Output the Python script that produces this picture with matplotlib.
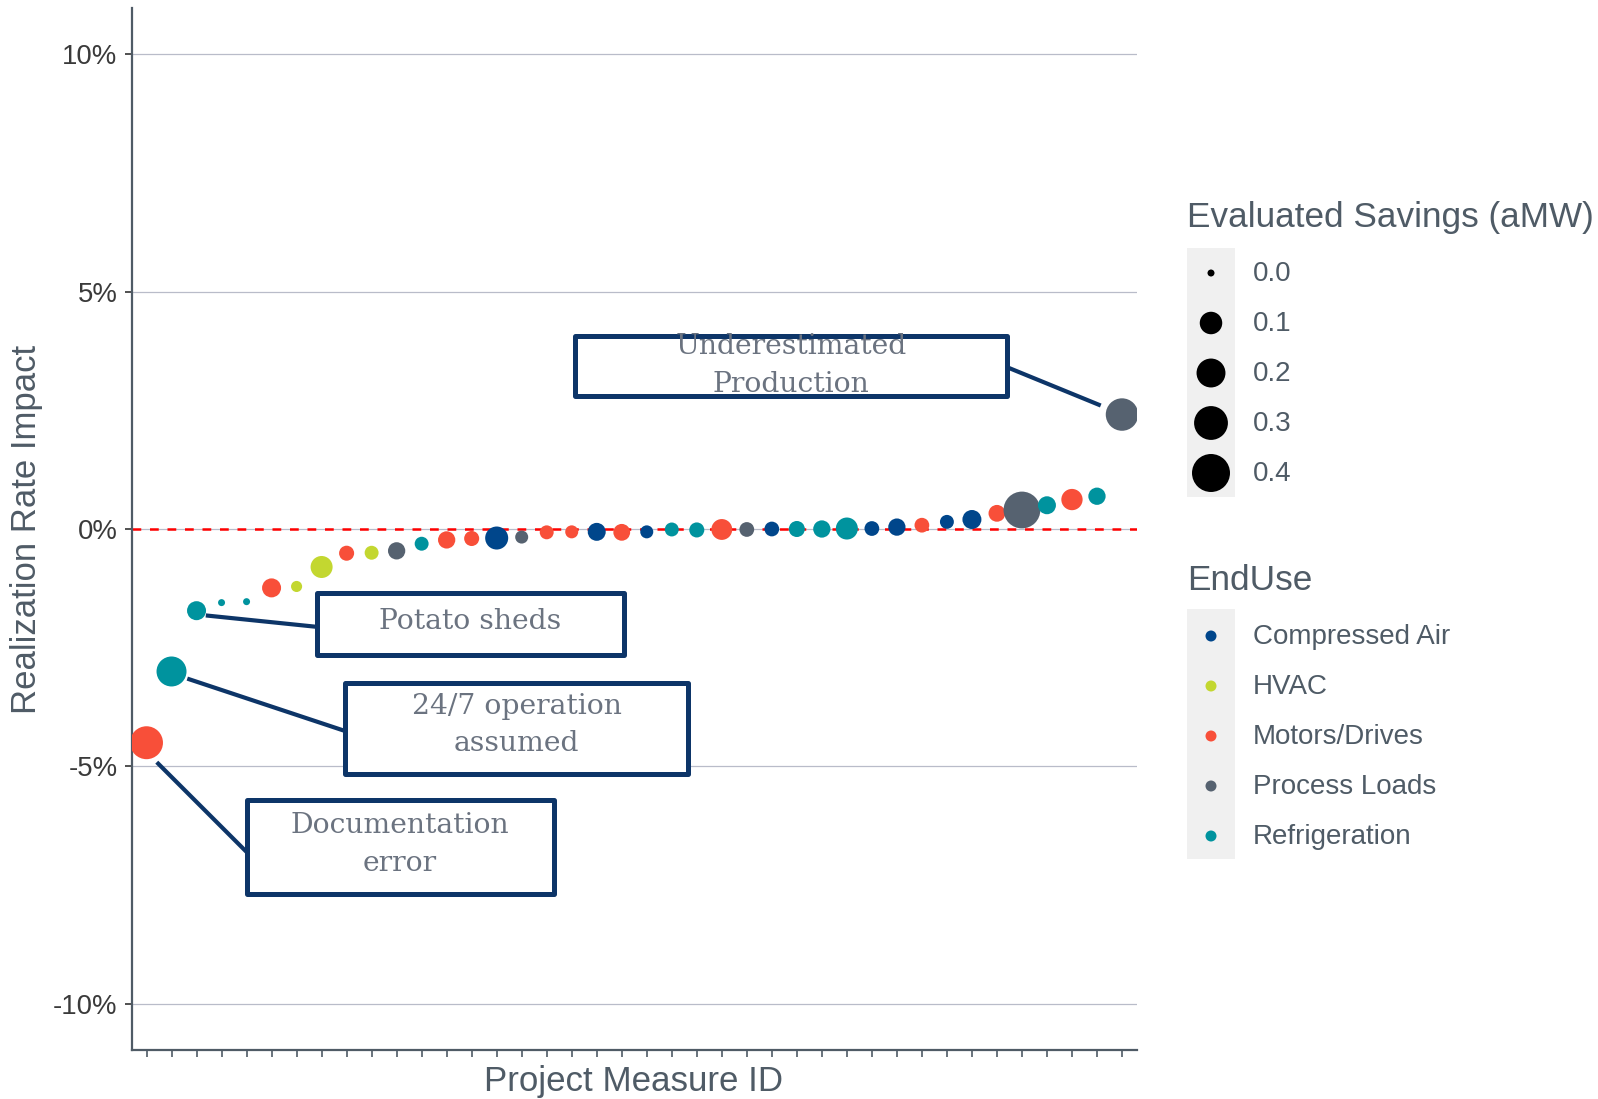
import matplotlib
matplotlib.use("Agg")
import matplotlib.pyplot as plt
from matplotlib.patches import Rectangle
import numpy as np

# ---------------- data ----------------
measure_ids = list(range(1, 41))
rr_impact = [-4.50, -3.00, -1.72, -1.55, -1.53, -1.24, -1.21, -0.80, -0.51, -0.50,
             -0.46, -0.31, -0.23, -0.20, -0.19, -0.17, -0.07, -0.06, -0.06, -0.07,
             -0.06, -0.01, -0.02, -0.01, -0.01, 0.00, 0.00, 0.00, 0.01, 0.01,
             0.04, 0.08, 0.15, 0.20, 0.33, 0.40, 0.50, 0.62, 0.69, 2.41]
savings = [0.28, 0.22, 0.06, 0.0, 0.0, 0.06, 0.007, 0.094, 0.027, 0.02,
           0.044, 0.02, 0.044, 0.027, 0.107, 0.015, 0.02, 0.015, 0.05, 0.04,
           0.015, 0.02, 0.027, 0.08, 0.025, 0.025, 0.034, 0.044, 0.094, 0.025,
           0.044, 0.025, 0.02, 0.06, 0.04, 0.37, 0.05, 0.085, 0.044, 0.27]
end_use = ["Motors/Drives", "Refrigeration", "Refrigeration", "Refrigeration", "Refrigeration",
           "Motors/Drives", "HVAC", "HVAC", "Motors/Drives", "HVAC",
           "Process Loads", "Refrigeration", "Motors/Drives", "Motors/Drives", "Compressed Air",
           "Process Loads", "Motors/Drives", "Motors/Drives", "Compressed Air", "Motors/Drives",
           "Compressed Air", "Refrigeration", "Refrigeration", "Motors/Drives", "Process Loads",
           "Compressed Air", "Refrigeration", "Refrigeration", "Refrigeration", "Compressed Air",
           "Compressed Air", "Motors/Drives", "Compressed Air", "Compressed Air", "Motors/Drives",
           "Process Loads", "Refrigeration", "Motors/Drives", "Refrigeration", "Process Loads"]

enduse_levels = ["Compressed Air", "HVAC", "Motors/Drives", "Process Loads", "Refrigeration"]
enduse_colors = ["#00468B", "#C3D730", "#F84F39", "#566270", "#00939E"]
size_breaks = [0.0, 0.1, 0.2, 0.3, 0.4]
y_ticks = [-10, -5, 0, 5, 10]
y_tick_labels = ["-10%", "-5%", "0%", "5%", "10%"]

annotations = [
    # text, box (x0, x1, y0, y1), text x, text y, segment (x0,y0,x1,y1)
    ("Underestimated\nProduction", (18.14, 35.39, 2.81, 4.06), 26.76, 3.44, (35.39, 3.41, 39.15, 2.60)),
    ("Potato sheds", (7.81, 20.09, -2.66, -1.35), 13.95, -1.95, (7.81, -2.06, 3.37, -1.82)),
    ("24/7 operation\nassumed", (8.92, 22.66, -5.15, -3.24), 15.79, -4.13, (8.92, -4.25, 2.63, -3.15)),
    ("Documentation\nerror", (5.0, 17.28, -7.68, -5.71), 11.14, -6.64, (5.0, -6.80, 1.41, -4.91)),
]

# ---------------- helpers ----------------
DPI = 100
def size_px(v):
    return 7 + 49 * np.sqrt(v)
def s_area(v):
    d_pt = size_px(np.asarray(v)) * 72 / DPI
    return d_pt ** 2

color_map = dict(zip(enduse_levels, enduse_colors))

W, H = 1598, 1099
fig = plt.figure(figsize=(W / DPI, H / DPI), dpi=DPI)
L, R, T, B = 131.5, 1137, 8, 1050
ax = fig.add_axes([L / W, 1 - B / H, (R - L) / W, (B - T) / H])

axis_col = "#4F5B66"
text_col = "#4F5B66"
tick_col = "#3A3A3A"

ax.set_xlim(0.4, 40.6)
ax.set_ylim(-10.97, 10.97)

for yt in y_ticks:
    ax.axhline(yt, color="#B9BCC9", lw=0.9, zorder=0)
ax.axhline(0, color="#FF0000", lw=1.8, ls=(0, (3.5, 3.5)), zorder=1)

cols = [color_map[e] for e in end_use]
ax.scatter(measure_ids, rr_impact, s=s_area(savings), c=cols, linewidths=0, zorder=3)

navy = "#0D3568"
serif_col = "#6B7380"
for txt, (x0, x1, y0, y1), tx, ty, (sx0, sy0, sx1, sy1) in annotations:
    ax.plot([sx0, sx1], [sy0, sy1], color=navy, lw=3.0, solid_capstyle="butt", zorder=2)
    ax.add_patch(Rectangle((x0, y0), x1 - x0, y1 - y0, fill=True, facecolor="white",
                           edgecolor=navy, lw=3.6, joinstyle="round", zorder=4))
    ax.text(tx, ty, txt, ha="center", va="center", fontsize=20.3, family="DejaVu Serif",
            color=serif_col, linespacing=1.5, zorder=5)

for side in ["top", "right"]:
    ax.spines[side].set_visible(False)
for side in ["left", "bottom"]:
    ax.spines[side].set_color(axis_col)
    ax.spines[side].set_linewidth(1.6)

ax.set_yticks(y_ticks)
ax.set_yticklabels(y_tick_labels)
ax.set_xticks(measure_ids)
ax.set_xticklabels([])
ax.tick_params(axis="y", length=5, width=1.2, color="#333333", labelsize=19.8,
               labelcolor=tick_col, pad=5)
ax.tick_params(axis="x", length=5, width=1.2, color=axis_col)
for lab in ax.get_yticklabels():
    lab.set_family("Liberation Sans")

fig.text(26.5 / W, 1 - 529 / H, "Realization Rate Impact", rotation=90,
         ha="center", va="center", fontsize=25, color=text_col, family="Liberation Sans")
fig.text(634 / W, 1 - 1082 / H, "Project Measure ID", ha="center", va="center",
         fontsize=25.1, color=text_col, family="Liberation Sans")

# ---------------- legends ----------------
lg = fig.add_axes([0, 0, 1, 1])
lg.set_xlim(0, W)
lg.set_ylim(H, 0)
lg.axis("off")
lg.patch.set_alpha(0)

# size legend
lg.text(1187, 218, "Evaluated Savings (aMW)", ha="left", va="center", fontsize=25.3,
        color=text_col, family="Liberation Sans")
lg.add_patch(Rectangle((1187, 248), 48, 249, facecolor="#F0F0F0", edgecolor="none"))
size_y = [273, 323, 373, 423, 473]
lg.scatter([1211] * 5, size_y, s=s_area(size_breaks), c="black", linewidths=0)
for yy, v in zip(size_y, size_breaks):
    lg.text(1253, yy + 1, f"{v:.1f}", ha="left", va="center", fontsize=20,
            color=text_col, family="Liberation Sans")

# colour legend
lg.text(1187, 580, "EndUse", ha="left", va="center", fontsize=25.3,
        color=text_col, family="Liberation Sans")
lg.add_patch(Rectangle((1187, 609), 48, 250, facecolor="#F0F0F0", edgecolor="none"))
col_y = [636, 686, 736, 786, 836]
lg.scatter([1211] * 5, col_y, s=(11 * 0.72) ** 2, c=enduse_colors, linewidths=0)
for yy, lab in zip(col_y, enduse_levels):
    lg.text(1253, yy + 1, lab, ha="left", va="center", fontsize=20,
            color=text_col, family="Liberation Sans")

fig.savefig("out.png", dpi=DPI)
